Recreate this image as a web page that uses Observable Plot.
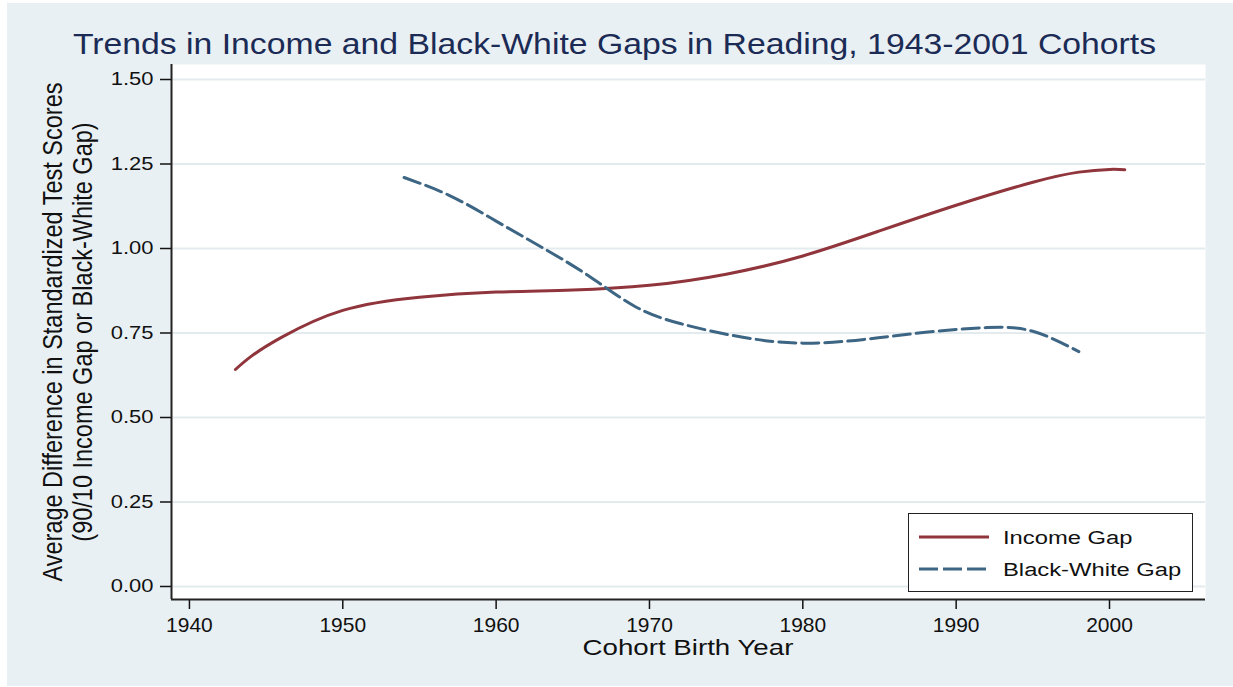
<!DOCTYPE html>
<html>
<head>
<meta charset="utf-8">
<script src="https://cdn.jsdelivr.net/npm/d3@7"></script>
<script src="https://cdn.jsdelivr.net/npm/@observablehq/plot@0.6"></script>
<style>
  body { margin: 0; background: #fff; }
  #wrap { position: relative; width: 1233px; height: 687px; overflow: hidden; background: #fff;
          font-family: "Liberation Sans", Arial, sans-serif; }
  #bg { position: absolute; left: 7px; top: 3px; right: 0; bottom: 1px; background: #e9f0f3; }
  #title { position: absolute; left: -2px; top: 28.7px; width: 1233px; text-align: center;
           font-size: 29.7px; line-height: 30px; color: #1b2b55; white-space: nowrap;
           transform: scaleX(1.137); transform-origin: 50% 50%; }
  #chart { position: absolute; left: 0; top: 62px; }
  #ytitle { position: absolute; left: -232.25px; top: 306.5px; width: 600px; height: 50px;
            text-align: center; font-size: 23.5px; line-height: 25px; color: #111; white-space: nowrap;
            transform: scaleX(1.19) rotate(-90deg); transform-origin: 50% 50%; }
  #xtitle { position: absolute; left: 388px; top: 637px; width: 600px; text-align: center;
            font-size: 22.5px; line-height: 22.5px; color: #111; white-space: nowrap;
            transform: scaleX(1.23); transform-origin: 50% 50%; }
  #legend { position: absolute; left: 908px; top: 513px; width: 285px; height: 79px; box-sizing: border-box;
            border: 1.5px solid #222; background: #fff; }
  .lg-sample { position: absolute; left: 10px; }
  .lg-text { position: absolute; left: 94px; font-size: 18px; line-height: 18px; color: #111; white-space: nowrap;
             transform: scaleX(1.32); transform-origin: 0 50%; }
</style>
</head>
<body>
<div id="wrap">
  <div id="bg"></div>
  <div id="title"></div>
  <div id="chart"></div>
  <div id="ytitle"></div>
  <div id="xtitle"></div>
  <div id="legend"></div>
</div>
<script>
// ---- data ----
const titleText = "Trends in Income and Black-White Gaps in Reading, 1943-2001 Cohorts";
const yTitleLines = ["Average Difference in Standardized Test Scores", "(90/10 Income Gap or Black-White Gap)"];
const xTitleText = "Cohort Birth Year";
const seriesNames = ["Income Gap", "Black-White Gap"];
const seriesColors = ["#90353b", "#3d6584"];

const incomeYears = [1943, 1944, 1946, 1950, 1955, 1960, 1965, 1970, 1975, 1980, 1985, 1990, 1995, 1998, 2000, 2001];
const incomeGap   = [0.642, 0.680, 0.737, 0.817, 0.856, 0.871, 0.877, 0.891, 0.924, 0.978, 1.052, 1.128, 1.196, 1.226, 1.234, 1.233];

const bwYears = [1954, 1957, 1960, 1963, 1966, 1969, 1972, 1976, 1980, 1984, 1988, 1992, 1995, 1998];
const bwGap   = [1.210, 1.156, 1.081, 1.003, 0.920, 0.830, 0.778, 0.738, 0.720, 0.731, 0.752, 0.766, 0.755, 0.695];

const xTicks = [1940, 1950, 1960, 1970, 1980, 1990, 2000];
const yTicks = [0, 0.25, 0.5, 0.75, 1.0, 1.25, 1.5];

// ---- build ----
const incomeData = incomeYears.map((y, i) => ({year: y, value: incomeGap[i]}));
const bwData = bwYears.map((y, i) => ({year: y, value: bwGap[i]}));

const xDomain = [1938.83, 2006.26];
const yDomain = [-0.0385, 1.5444];

const plot = Plot.plot({
  width: 1233, height: 625,
  marginLeft: 171, marginRight: 28, marginTop: 2, marginBottom: 88,
  style: {background: "transparent", fontFamily: "'Liberation Sans', Arial, sans-serif", color: "#111", overflow: "visible"},
  x: {domain: xDomain},
  y: {domain: yDomain},
  marks: [
    Plot.frame({fill: "white", stroke: "none"}),
    Plot.gridY(yTicks, {stroke: "#e3ebee", strokeOpacity: 1, strokeWidth: 2}),
    Plot.axisY(yTicks, {tickSize: 11, tickPadding: 7, tickFormat: d3.format(".2f"), fontSize: 18, label: null, strokeWidth: 1.5}),
    Plot.axisX(xTicks, {tickSize: 10, tickPadding: 8, tickFormat: d => String(d), fontSize: 20, label: null, strokeWidth: 1.5}),
    Plot.ruleX([xDomain[0]], {stroke: "#222", strokeWidth: 2}),
    Plot.ruleY([yDomain[0]], {stroke: "#222", strokeWidth: 2}),
    Plot.line(incomeData, {x: "year", y: "value", stroke: seriesColors[0], strokeWidth: 3, curve: "natural"}),
    Plot.line(bwData, {x: "year", y: "value", stroke: seriesColors[1], strokeWidth: 3, strokeDasharray: "17,6", curve: "natural"})
  ]
});

function stretch(label, s) {
  plot.querySelectorAll(`g[aria-label="${label}"] text`).forEach(t => {
    const tr = t.getAttribute("transform") || "";
    t.setAttribute("transform", tr + ` scale(${s},1)`);
  });
}
stretch("y-axis tick label", 1.22);
stretch("x-axis tick label", 1.05);

document.getElementById("chart").appendChild(plot);
document.getElementById("title").textContent = titleText;
document.getElementById("ytitle").innerHTML = yTitleLines.map(s => `<div>${s}</div>`).join("");
document.getElementById("xtitle").textContent = xTitleText;

const legend = document.getElementById("legend");
const rowCenters = [22.5, 54.5];
seriesNames.forEach((name, i) => {
  const dash = i === 1 ? 'stroke-dasharray="19,5"' : "";
  legend.insertAdjacentHTML("beforeend",
    `<svg class="lg-sample" style="top:${rowCenters[i] - 5}px" width="70" height="10">
       <line x1="0" x2="70" y1="5" y2="5" stroke="${seriesColors[i]}" stroke-width="3" ${dash}/></svg>
     <div class="lg-text" style="top:${rowCenters[i] - 7.6}px">${name}</div>`);
});
</script>
</body>
</html>
